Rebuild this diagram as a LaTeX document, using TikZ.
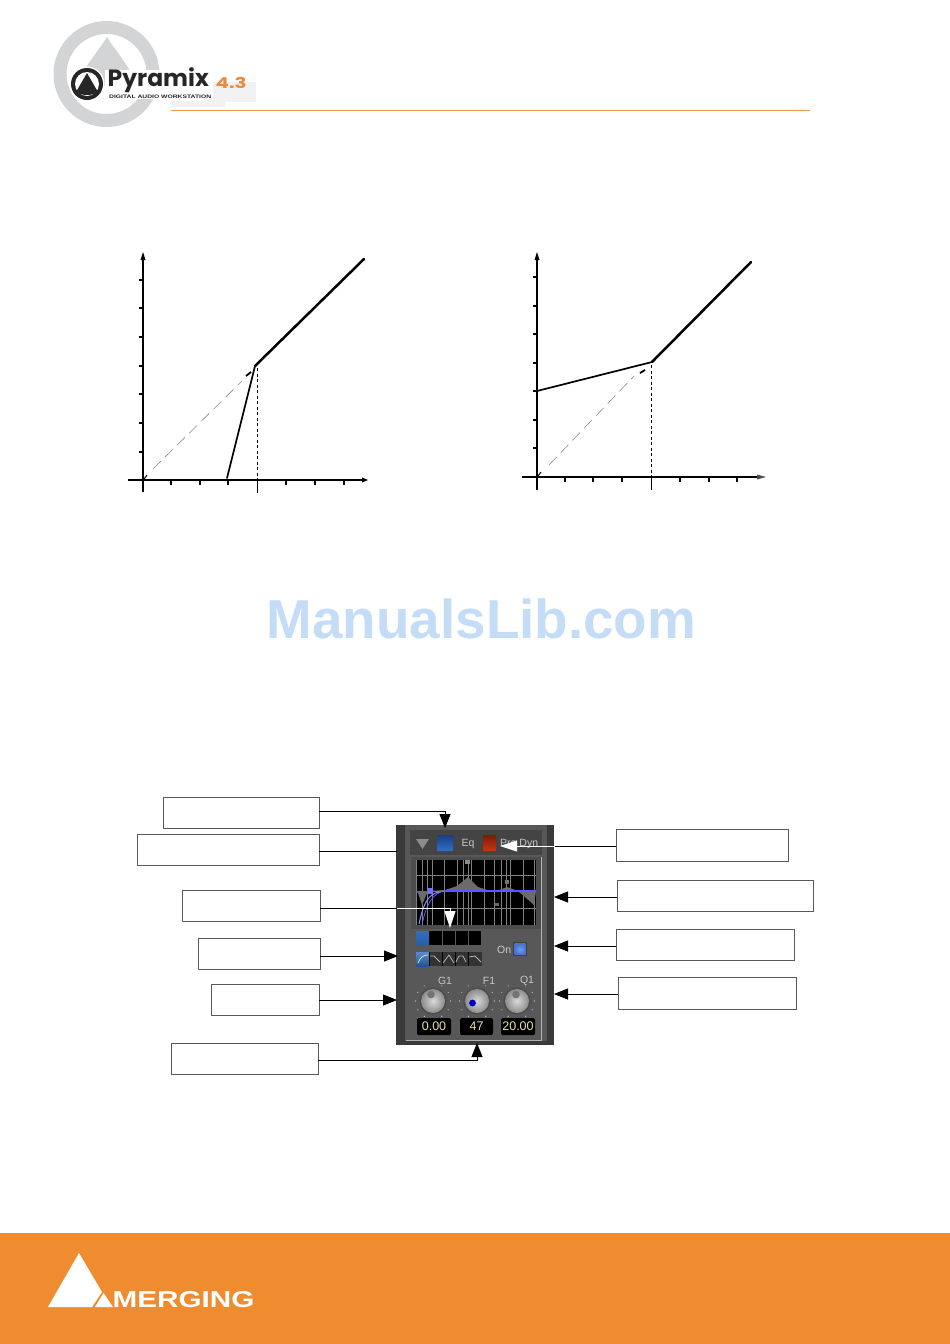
\documentclass[tikz,border=0pt]{standalone}
\usepackage{fontspec}
\setmainfont{Liberation Sans}
\newfontfamily\logofont{Poppins}
\usetikzlibrary{arrows.meta,calc}
\definecolor{orangeBar}{HTML}{EF8C30}
\definecolor{orangeLine}{HTML}{EE9A50}
\definecolor{logoOrange}{HTML}{E98B3E}
\definecolor{ringGray}{HTML}{D2D4D6}
\definecolor{markBlue}{HTML}{C4DCF6}
\definecolor{panelDark}{HTML}{3A3A3A}
\definecolor{panelMid}{HTML}{585858}
\definecolor{panelHead}{HTML}{444444}
\definecolor{paleText}{HTML}{E8DFA8}
\definecolor{paneText}{HTML}{C8C8C8}
\definecolor{btnBlueA}{HTML}{183C88}
\definecolor{btnBlueB}{HTML}{2F6FC0}
\definecolor{btnRedA}{HTML}{7A1C08}
\definecolor{btnRedB}{HTML}{C83210}
\definecolor{onBlue}{HTML}{5A88F0}
\tikzset{
  x=1pt,y=-1pt,
  labelbox/.style={draw=black!65,fill=white,line width=0.7pt,inner sep=0pt},
  link/.style={draw=black,line width=0.8pt},
  linkhead/.style={link,-{Triangle[length=14pt,width=11pt]}},
  whitelink/.style={draw=white,line width=1pt},
  whitehead/.style={whitelink,-{Triangle[length=17pt,width=11pt,fill=white]}},
  axisline/.style={draw=black,line width=2.2pt,dash pattern=on 1.7pt off 0.3pt},
  tickmark/.style={draw=black,line width=1.5pt},
  kneeguide/.style={draw=black,line width=0.7pt,dash pattern=on 3pt off 2.5pt},
  unitguide/.style={draw=black!45,line width=0.6pt,dash pattern=on 11pt off 6pt},
  curve/.style={draw=black,line cap=round,line join=round},
  panetext/.style={text=paneText,font=\fontsize{10.5}{11}\selectfont,inner sep=0pt},
  readout/.style={fill=black,rounded corners=1.5pt,text=paleText,font=\fontsize{12.5}{13}\selectfont,inner sep=0pt},
  gridline/.style={draw=white!50!black,line width=0.5pt},
}
\newcommand{\knobat}[3]{%
  \foreach \ang in {-60,-30,...,240}{\fill[white!85!black] ($(#1,#2)+(\ang:17.5)$) circle (0.6);}
  \fill[white!30!black] (#1,#2) circle (13.5);
  \shade[inner color=white!85!black,outer color=white!55!black] (#1,#2) circle (12);
  #3
}
\begin{document}
\begin{tikzpicture}
\useasboundingbox (0,0) rectangle (950,1344);
\fill[white] (0,0) rectangle (950,1344);

% header logo
\fill[ringGray,even odd rule] (106.5,74) circle (53) (106.5,74) circle (40);
\fill[ringGray] (107,37) .. controls (98,52) and (79,72) .. (79,86) -- (135,86) .. controls (135,72) and (116,52) .. (107,37) -- cycle;
\fill[white!95!black] (205,82) rectangle (256,102);
\fill[white!95!black] (172,101) rectangle (225,107);
\fill[white] (105,70) rectangle (213,92);
\fill[white] (105,92) rectangle (213,98.5);
\fill[white] (87,84) circle (17.5);
\fill[black!85] (87,84) circle (16);
\fill[white] (87,84) circle (12);
\fill[black!85] (87,73) -- (98,92) .. controls (92,96) and (82,96) .. (76,92) -- cycle;
\node[anchor=west,inner sep=0pt,text=black!85] (logoname) at (107.5,80.5) {\logofont\bfseries\fontsize{23.5}{24}\selectfont Pyramix};
\node[anchor=west,inner sep=0pt,text=logoOrange] (logover) at (215.5,83) {\logofont\bfseries\fontsize{15}{16}\selectfont\scalebox{1.32}[1]{4.3}};
\node[anchor=west,inner sep=0pt,text=black!85] (logosub) at (109,97) {\bfseries\fontsize{5}{6}\selectfont\scalebox{1.35}[1]{DIGITAL AUDIO WORKSTATION}};
\draw[orangeLine,line width=1pt] (171,110) -- (810,110);

% left transfer graph
\coordinate (lo) at (143,480);
\draw[axisline] (128,480) -- (364,480);
\draw[axisline] (143,257) -- (143,492);
\fill[black] (143,252) -- (145.5,260) -- (140.5,260) -- cycle;
\fill[black] (368,480) -- (362,477.5) -- (362,482.5) -- cycle;
\foreach \ty in {280,308,337,366,394,423,452}{\draw[tickmark] (139,\ty) -- (143,\ty);}
\foreach \tx in {171,200,228,286,315,344}{\draw[tickmark] (\tx,480) -- (\tx,484.5);}
\draw[line width=1.4pt] (257.5,480) -- (257.5,493);
\coordinate (lk) at (255,366);
\draw[kneeguide] (257.5,368) -- (257.5,480);
\draw[unitguide] (153,469) -- (242,381);
\draw[line width=1.8pt] (246,376) -- (251,372);
\draw[line width=1pt] (144,479) -- (147,475);
\draw[curve,line width=1.7pt] (227,478) -- (lk);
\draw[curve,line width=2.5pt] (lk) -- (364,259);

% right transfer graph
\coordinate (ro) at (537,477);
\draw[axisline] (522,477) -- (757,477);
\draw[axisline] (537,257) -- (537,490);
\fill[black] (537,252) -- (539.5,260) -- (534.5,260) -- cycle;
\fill[black!70] (766,477) -- (757,474.5) -- (757,479.5) -- cycle;
\foreach \ty in {277,306,334,363,391,420,448}{\draw[tickmark] (533,\ty) -- (537,\ty);}
\foreach \tx in {565,593,622,680,709,737}{\draw[tickmark] (\tx,477) -- (\tx,481.5);}
\draw[line width=1.4pt] (651.5,477) -- (651.5,490);
\coordinate (rk) at (652,362);
\draw[kneeguide] (651.5,365) -- (651.5,477);
\draw[unitguide] (549,465) -- (634,376);
\draw[line width=1.8pt] (640,373) -- (645,370);
\draw[line width=1pt] (538,476) -- (541,472);
\draw[curve,line width=1.7pt] (537,391) -- (rk);
\draw[curve,line width=2.5pt] (rk) -- (751,262);

% watermark
\node[inner sep=0pt,text=markBlue] (watermark) at (481.5,618.5) {\bfseries\fontsize{54.8}{60}\selectfont ManualsLib.com};

% EQ panel
\fill[panelMid] (396,825) rectangle (554,1045);
\fill[panelDark] (396,825) rectangle (405,1045);
\fill[panelDark] (547,825) rectangle (554,1045);
\fill[panelDark] (396,1041) rectangle (554,1045);
\draw[white!70!black,line width=0.6pt] (405.5,1040) -- (541,1040) -- (541,857);
\fill[panelHead] (410,830) rectangle (542,855);
\fill[white!55!black] (416,839) -- (429,839) -- (422.5,849) -- cycle;
\shade[top color=btnBlueA,bottom color=btnBlueB] (437,835) rectangle (453,850);
\node[panetext] (eqtext) at (468,843.5) {Eq};
\shade[top color=btnRedA,bottom color=btnRedB] (483,835) rectangle (496,850);
\node[panetext,anchor=west] (dyntext) at (500,844) {Pre Dyn};

\fill[white!30!black] (411,857) rectangle (541,929);
\fill[black] (416,860) rectangle (536,925);
\foreach \gx in {416.5,422.5,427,432,444.5,457.5,463,468,471,484,494.5,501.5,506.5,510.5,523.5,534}{\draw[gridline] (\gx,860) -- (\gx,925);}
\foreach \gy in {875,891,908}{\draw[gridline] (416,\gy) -- (536,\gy);}
\fill[white!42!black] (416,891) -- (418,893) -- (422,905) -- (428,891) -- (445,890) -- (457,886) -- (468,877) -- (478,887) -- (494,892) -- (507,887) -- (518,891) -- (534,905) -- (536,891) -- cycle;
\draw[blue!45!white,line width=1pt] (419,924) .. controls (423,905) and (428,893) .. (440,892);
\draw[blue!60!white,line width=0.7pt] (422,925) .. controls (426,905) and (432,893) .. (445,891);
\draw[blue!65!white,line width=1.3pt] (445,891) -- (536,891);
\fill[blue!55!white] (428,888) rectangle (433,894);
\fill[white!55!black] (465,860) rectangle (470,864);
\fill[white!45!black] (505,880) rectangle (509,884);
\fill[white!40!black] (495,903) rectangle (499,906);

% band selector
\fill[black] (416,931) rectangle (481,945);
\shade[top color=btnBlueB,bottom color=btnBlueB!85!black] (416,931) rectangle (429,945);
\foreach \sx in {442,455,468}{\draw[white!35!black,line width=0.5pt] (\sx,931) -- (\sx,945);}
% filter type buttons
\fill[white!20!black] (416,952) rectangle (482,966);
\shade[top color=btnBlueB!80!white,bottom color=btnBlueB!75!black] (416,952) rectangle (429,966);
\foreach \sx in {429,442,455,468}{\draw[black,line width=0.6pt] (\sx,952) -- (\sx,966);}
\draw[white!85!black,line width=0.8pt] (418,963) .. controls (420,957) and (424,955) .. (428,955);
\draw[white!70!black,line width=0.8pt] (430,956) -- (434,956) -- (440,962);
\draw[white!70!black,line width=0.8pt] (443,963) -- (449,955) -- (454,963);
\draw[white!70!black,line width=0.8pt] (456,962) -- (459,956) -- (463,956) -- (466,962);
\draw[white!70!black,line width=0.8pt] (469,957) -- (475,956) -- (481,962);

\node[panetext,anchor=west] (ontext) at (497,950) {On};
\fill[black!75] (513,942) rectangle (527,956);
\shade[inner color=onBlue!85!white,outer color=onBlue!85!black] (514.5,943.5) rectangle (525.5,954.5);

% knobs
\knobat{433}{1001}{\fill[white!45!black] (431,994.5) circle (3.8);}
\knobat{477}{1001}{\fill[blue!75!black] (472.5,1003) circle (3.4);}
\knobat{517}{1001}{\fill[white!45!black] (516,994.5) circle (3.8);}
\node[panetext] (g1text) at (445,980.5) {G1};
\node[panetext] (f1text) at (489,980.5) {F1};
\node[panetext] (q1text) at (527,980.5) {Q1};
\node[readout,minimum width=34pt,minimum height=17pt] (rd1) at (434,1026.5) {0.00};
\node[readout,minimum width=33pt,minimum height=17pt] (rd2) at (476.5,1026.5) {47};
\node[readout,minimum width=34pt,minimum height=17pt] (rd3) at (518,1026.5) {20.00};

% label boxes
\node[labelbox,minimum width=156pt,minimum height=31pt] (b1) at (241,812.5) {};
\node[labelbox,minimum width=182pt,minimum height=31pt] (b2) at (228,849.5) {};
\node[labelbox,minimum width=138pt,minimum height=31pt] (b3) at (251,905.5) {};
\node[labelbox,minimum width=122pt,minimum height=31pt] (b4) at (259,953.5) {};
\node[labelbox,minimum width=108pt,minimum height=31pt] (b5) at (265,999.5) {};
\node[labelbox,minimum width=147pt,minimum height=31pt] (b6) at (244.5,1058.5) {};
\node[labelbox,minimum width=172pt,minimum height=32pt] (r1) at (702,845) {};
\node[labelbox,minimum width=196pt,minimum height=31pt] (r2) at (715,895.5) {};
\node[labelbox,minimum width=178pt,minimum height=31pt] (r3) at (705,944.5) {};
\node[labelbox,minimum width=178pt,minimum height=32pt] (r4) at (707,993) {};

% footer
\fill[orangeBar] (0,1233) rectangle (950,1344);
\fill[white] (79,1253) -- (102,1292) -- (92,1307) -- (48,1307) -- cycle;
\fill[white] (103.5,1293) -- (113,1307) -- (95,1307) -- cycle;
\node[anchor=south west,inner sep=0pt,text=white] (merging) at (112.5,1307.6) {\bfseries\fontsize{23}{24}\selectfont\scalebox{1.29}[1]{MERGING}};

% connectors
\coordinate (t1) at (445,828);
\coordinate (t2) at (397,851);
\coordinate (t3a) at (397,908);
\coordinate (t3) at (450,928);
\coordinate (t4) at (398,956);
\coordinate (t5) at (397,1000);
\coordinate (t6) at (477,1043);
\coordinate (t7a) at (555,846);
\coordinate (t7) at (500,846);
\coordinate (t8) at (554,897);
\coordinate (t9) at (554,946);
\coordinate (t10) at (554,994);
\draw[linkhead] (b1.east |- 0,811) -| (t1);
\draw[link] (b2.east |- t2) -- (t2);
\draw[link] (b3.east |- t3a) -- (t3a);
\draw[whitehead] (t3a) -| (t3);
\draw[linkhead] (b4.east |- t4) -- (t4);
\draw[linkhead] (b5.east |- t5) -- (t5);
\draw[linkhead] (b6.east |- 0,1060) -| (t6);
\draw[link] (r1.west |- t7a) -- (t7a);
\draw[whitehead] (t7a) -- (t7);
\draw[linkhead] (r2.west |- t8) -- (t8);
\draw[linkhead] (r3.west |- t9) -- (t9);
\draw[linkhead] (r4.west |- t10) -- (t10);
\end{tikzpicture}
\end{document}
